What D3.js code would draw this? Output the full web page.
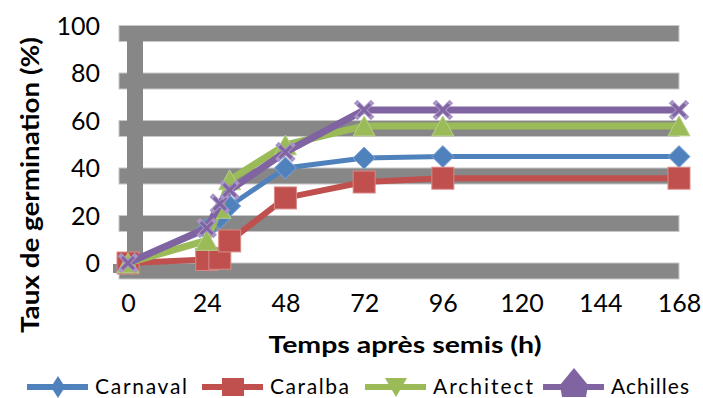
<!DOCTYPE html>
<html><head><meta charset="utf-8">
<script src="https://cdn.jsdelivr.net/npm/d3@7"></script>
<style>
body{margin:0;background:#fff}
svg text{font-family:Lato, "Open Sans", sans-serif;fill:#000}
</style></head>
<body><svg id="c" width="703" height="398"></svg>
<script>
// ---- data ----
const hours = [0, 24, 28, 31, 48, 72, 96, 168];
const xTicks = [0, 24, 48, 72, 96, 120, 144, 168];
const yTicks = [0, 20, 40, 60, 80, 100];
const seriesNames = ["Carnaval", "Caralba", "Architect", "Achilles"];
const carnaval  = [0, 14, 19, 24, 40, 44.2, 44.8, 44.8];
const caralba   = [0, 1.5, 2, 9.3, 27.4, 34.1, 35.7, 35.7];
const architect = [0, 9.5, 23, 35, 49.7, 57.7, 57.7, 57.7];
const achilles  = [0, 14.7, 25, 30.7, 46.7, 64.4, 64.4, 64.4];
const xTitle = "Temps après semis (h)";
const yTitle = "Taux de germination (%)";

const svg = d3.select("#c");
const x = d3.scaleLinear().domain([0, 168]).range([128, 679]);
const y = d3.scaleLinear().domain([0, 100]).range([263, 25.5]);

const styles = [
  {color:"#4F81BD", light:"#7fa6d6", w:5, shape:"diamond"},
  {color:"#C0504D", light:"#d98a88", w:6, shape:"square"},
  {color:"#9BBB59", light:"#b9d08a", w:7, shape:"triangle"},
  {color:"#8064A2", light:"#a895c6", w:7, shape:"x"}
];
const values = [carnaval, caralba, architect, achilles];

// grid bands
const grid = svg.append("g");
grid.selectAll("rect.h").data(yTicks).join("rect")
  .attr("x", x(0) - 9).attr("width", x(168) - x(0) + 9)
  .attr("y", d => y(d) + 8 - 8).attr("height", 16)
  .attr("fill", "#878787").attr("stroke", "#c8c8c8").attr("stroke-width", 1);
grid.append("rect").attr("x", x(0) - 15).attr("width", 7)
  .attr("y", y(0) + 1).attr("height", 9).attr("fill", "#878787");
grid.append("rect").attr("x", x(0) - 1).attr("width", 16)
  .attr("y", y(100) + 1.5).attr("height", y(0) - y(100) + 7)
  .attr("fill", "#878787");

// axes labels
const xAxis = d3.axisBottom(x).tickValues(xTicks).tickSize(0).tickPadding(0).tickFormat(d3.format("d"));
const gx = svg.append("g").attr("transform", "translate(0,312)").call(xAxis);
gx.select(".domain").remove();
gx.selectAll("text").attr("dy", 0).attr("font-size", 25).style("font-family", "Lato, sans-serif");

const yAxis = d3.axisLeft(y).tickValues(yTicks).tickSize(0).tickPadding(0).tickFormat(d3.format("d"));
const gy = svg.append("g").attr("transform", "translate(100,0)").call(yAxis);
gy.select(".domain").remove();
gy.selectAll("text").attr("dy", "0.35em").attr("font-size", 25).style("font-family", "Lato, sans-serif");

// symbols
function marker(g, shape, cx, cy, st, size) {
  const s = size;
  if (shape === "diamond") {
    g.append("path").attr("d", `M${cx},${cy - s/2}L${cx + s/2},${cy}L${cx},${cy + s/2}L${cx - s/2},${cy}Z`)
      .attr("fill", st.color).attr("stroke", st.light).attr("stroke-width", 1);
  } else if (shape === "square") {
    g.append("rect").attr("x", cx - s/2).attr("y", cy - s/2).attr("width", s).attr("height", s)
      .attr("fill", st.color).attr("stroke", st.light).attr("stroke-width", 1);
  } else if (shape === "triangle") {
    g.append("path").attr("d", `M${cx},${cy - s*0.45}L${cx + s/2},${cy + s*0.45}L${cx - s/2},${cy + s*0.45}Z`)
      .attr("fill", st.color).attr("stroke", st.light).attr("stroke-width", 1);
  } else if (shape === "x") {
    const h = s / 2;
    g.append("path").attr("d", `M${cx - h},${cy - h}L${cx + h},${cy + h}M${cx - h},${cy + h}L${cx + h},${cy - h}`)
      .attr("stroke", st.light).attr("stroke-width", 5);
    g.append("path").attr("d", `M${cx - h*0.7},${cy - h*0.7}L${cx + h*0.7},${cy + h*0.7}M${cx - h*0.7},${cy + h*0.7}L${cx + h*0.7},${cy - h*0.7}`)
      .attr("stroke", st.color).attr("stroke-width", 3);
  }
}

const line = d3.line().x((d, i) => x(hours[i])).y(d => y(d));
values.forEach((vals, k) => {
  const st = styles[k];
  const g = svg.append("g");
  g.append("path").datum(vals).attr("d", line).attr("fill", "none")
    .attr("stroke", st.color).attr("stroke-width", st.w)
    .attr("stroke-linejoin", "round").attr("stroke-linecap", "round");
  vals.forEach((v, i) => marker(g, st.shape, x(hours[i]), y(v), st, st.shape === "x" ? 17 : 22));
});

// titles
svg.append("text").attr("x", 405).attr("y", 353).attr("text-anchor", "middle")
  .attr("font-size", 23).attr("font-weight", "bold").attr("textLength", 273)
  .attr("lengthAdjust", "spacingAndGlyphs").text(xTitle);
svg.append("text").attr("transform", "translate(39,185) rotate(-90)").attr("text-anchor", "middle")
  .attr("font-size", 24).attr("font-weight", "bold").attr("textLength", 296)
  .attr("lengthAdjust", "spacingAndGlyphs").text(yTitle);

// legend
const legendX = [27, 202, 365, 543];
const legendTextW = [92, 79, 100, 78];
const legendShapes = ["diamondTall", "square", "triDown", "diamondBig"];
const lg = svg.append("g");
seriesNames.forEach((name, k) => {
  const st = styles[k];
  const x0 = legendX[k], cy = 387, cx = x0 + 31;
  lg.append("line").attr("x1", x0).attr("x2", x0 + 61).attr("y1", cy).attr("y2", cy)
    .attr("stroke", st.color).attr("stroke-width", 6);
  const sh = legendShapes[k];
  let d;
  if (sh === "diamondTall") d = `M${cx},${cy - 11}L${cx + 7},${cy}L${cx},${cy + 11}L${cx - 7},${cy}Z`;
  else if (sh === "square") d = `M${cx - 11},${cy - 9}h22v18h-22Z`;
  else if (sh === "triDown") d = `M${cx - 11},${cy - 9}L${cx + 11},${cy - 9}L${cx},${cy + 10}Z`;
  else d = `M${cx},${cy - 19}L${cx + 14},${cy - 2}L${cx + 12},${cy + 10}L${cx - 12},${cy + 10}L${cx - 14},${cy - 2}Z`;
  lg.append("path").attr("d", d).attr("fill", st.color);
  lg.append("text").attr("x", x0 + 68).attr("y", 394).attr("font-size", 21)
    .attr("textLength", legendTextW[k]).attr("lengthAdjust", "spacing").text(name);
});
</script>
</body></html>
